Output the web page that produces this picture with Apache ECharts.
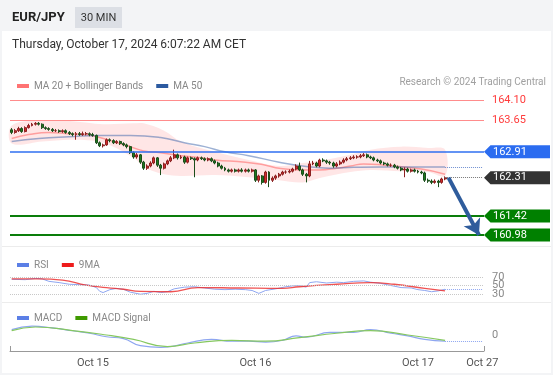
<!DOCTYPE html>
<html><head><meta charset="utf-8">
<script src="https://cdn.jsdelivr.net/npm/echarts/dist/echarts.min.js"></script>
<style>
html,body{margin:0;padding:0;background:#fff;}
#wrap{position:relative;width:553px;height:375px;overflow:hidden;background:#f3f4f6;font-family:Roboto,"Liberation Sans",sans-serif;}
#panel{position:absolute;left:2px;top:31px;width:549px;height:342px;background:#fff;}
#sym{position:absolute;left:12px;top:9px;font-size:13px;font-weight:bold;color:#222;line-height:16px;}
#tf{position:absolute;left:75px;top:7px;width:47px;height:21px;background:#dcdfe5;color:#333;font-size:11px;line-height:21px;text-align:center;}
#date{position:absolute;left:12px;top:37px;font-size:12px;color:#333;line-height:15px;}
#copy{position:absolute;right:7px;top:76px;font-size:10px;color:#a0a0a0;line-height:12px;}
.sep{position:absolute;left:2px;width:549px;height:1px;background:#ececec;}
#chart{position:absolute;left:0;top:0;width:553px;height:375px;}
</style></head>
<body>
<div id="wrap">
<div id="panel"></div>
<div class="sep" style="top:246px"></div>
<div class="sep" style="top:302px"></div>
<div id="chart"></div>
<div id="sym">EUR/JPY</div>
<div id="tf">30 MIN</div>
<div id="date">Thursday, October 17, 2024 6:07:22 AM CET</div>
<div id="copy">Research © 2024 Trading Central</div>
</div>
<script>
// ---- data ----
const tickIdx = [24, 72, 120, 139];
const tickLabels = ['Oct 15', 'Oct 16', 'Oct 17', 'Oct 27'];
const categoryCount = 140;

const candleOpen = [163.42,163.36,163.40,163.45,163.38,163.47,163.52,163.55,163.57,163.55,163.47,163.45,163.43,163.40,163.40,163.38,163.40,163.36,163.33,163.31,163.33,163.31,163.33,163.33,163.31,163.29,163.12,163.05,163.07,163.19,163.17,163.12,163.15,163.10,163.07,163.03,162.89,162.79,162.84,162.67,162.53,162.58,162.65,162.77,162.60,162.53,162.63,162.70,162.77,162.84,162.77,162.79,162.67,162.77,162.75,162.72,162.77,162.75,162.72,162.75,162.70,162.65,162.58,162.53,162.49,162.46,162.49,162.46,162.49,162.46,162.49,162.46,162.49,162.25,162.35,162.20,162.44,162.25,162.30,162.35,162.39,162.44,162.44,162.46,162.51,162.58,162.49,162.39,162.35,162.63,162.65,162.58,162.72,162.70,162.67,162.65,162.58,162.63,162.67,162.72,162.75,162.77,162.79,162.79,162.82,162.84,162.79,162.77,162.72,162.70,162.65,162.63,162.60,162.60,162.56,162.53,162.49,162.51,162.46,162.49,162.46,162.44,162.42,162.25,162.23,162.20,162.23,162.20,162.28];
const candleClose = [163.36,163.40,163.45,163.38,163.47,163.52,163.55,163.57,163.55,163.47,163.45,163.43,163.40,163.40,163.38,163.40,163.36,163.33,163.31,163.33,163.31,163.33,163.33,163.31,163.29,163.12,163.05,163.07,163.19,163.17,163.12,163.15,163.10,163.07,163.03,162.89,162.79,162.84,162.67,162.53,162.58,162.65,162.77,162.60,162.53,162.63,162.70,162.77,162.84,162.77,162.79,162.67,162.77,162.75,162.72,162.77,162.75,162.72,162.75,162.70,162.65,162.58,162.53,162.49,162.46,162.49,162.46,162.49,162.46,162.49,162.46,162.49,162.25,162.35,162.20,162.44,162.25,162.30,162.35,162.39,162.44,162.44,162.46,162.51,162.58,162.49,162.39,162.35,162.63,162.65,162.58,162.72,162.70,162.67,162.65,162.58,162.63,162.67,162.72,162.75,162.77,162.79,162.79,162.82,162.84,162.79,162.77,162.72,162.70,162.65,162.63,162.60,162.60,162.56,162.53,162.49,162.51,162.46,162.49,162.46,162.44,162.42,162.25,162.23,162.20,162.23,162.20,162.28,162.31];
const candleHigh = [163.46,163.44,163.49,163.48,163.50,163.56,163.58,163.60,163.60,163.57,163.50,163.48,163.46,163.44,163.43,163.43,163.43,163.39,163.36,163.37,163.37,163.38,163.37,163.36,163.35,163.31,163.15,163.10,163.22,163.22,163.20,163.18,163.17,163.13,163.10,163.05,162.92,162.88,162.86,162.70,162.62,162.69,162.80,162.79,162.63,162.66,162.73,162.81,162.96,162.87,162.83,162.82,162.80,162.80,162.78,162.80,162.80,162.78,162.78,162.78,162.73,162.68,162.61,162.56,162.52,162.52,162.52,162.52,162.53,162.52,162.52,162.52,162.51,162.38,162.37,162.47,162.46,162.34,162.38,162.42,162.47,162.48,162.50,162.54,162.62,162.66,162.52,162.42,162.70,162.70,162.68,162.75,162.76,162.73,162.70,162.68,162.67,162.71,162.76,162.79,162.81,162.83,162.83,162.86,162.88,162.87,162.82,162.80,162.75,162.73,162.68,162.66,162.64,162.63,162.59,162.56,162.55,162.54,162.52,162.52,162.49,162.47,162.45,162.29,162.27,162.27,162.26,162.31,162.34];
const candleLow = [163.32,163.33,163.37,163.35,163.36,163.45,163.50,163.52,163.52,163.44,163.42,163.40,163.37,163.37,163.35,163.35,163.33,163.30,163.27,163.19,163.28,163.28,163.29,163.27,163.26,163.09,163.02,163.01,163.05,163.13,163.09,163.09,163.07,163.04,162.99,162.86,162.75,162.75,162.63,162.49,162.49,162.55,162.62,162.56,162.37,162.50,162.60,162.67,162.74,162.73,162.74,162.63,162.64,162.72,162.32,162.69,162.72,162.69,162.69,162.67,162.62,162.55,162.50,162.46,162.43,162.43,162.43,162.43,162.43,162.43,162.43,162.43,162.21,162.20,162.15,162.17,162.09,162.21,162.26,162.31,162.36,162.40,162.41,162.43,162.48,162.46,162.35,162.20,162.32,162.60,162.55,162.55,162.67,162.63,162.61,162.54,162.55,162.60,162.64,162.69,162.72,162.74,162.75,162.76,162.79,162.76,162.74,162.69,162.67,162.62,162.60,162.57,162.56,162.53,162.50,162.46,162.32,162.43,162.43,162.43,162.41,162.39,162.21,162.19,162.16,162.17,162.09,162.17,162.25];

const ma20Idx = [0,5,11,17,22,26,30,35,39,44,50,56,60,69,75,79,86,91,96,100,104,110,121,128];
const ma20Val = [163.22,163.31,163.36,163.33,163.31,163.24,163.15,163.03,162.93,162.89,162.82,162.77,162.72,162.67,162.60,162.53,162.49,162.49,162.53,162.58,162.63,162.60,162.51,162.39];
const ma50Idx = [0,8,17,26,35,44,51,57,63,70,79,87,94,101,109,118,128];
const ma50Val = [163.15,163.22,163.26,163.29,163.29,163.24,163.12,163.03,162.91,162.82,162.67,162.57,162.53,162.55,162.56,162.56,162.56];
const bbIdx = [0,9,18,27,36,39,45,50,60,70,79,86,91,100,106,115,123,128];
const bbUpper = [163.52,163.64,163.62,163.55,163.57,163.57,163.40,163.15,162.91,162.72,162.58,162.65,162.70,162.84,162.96,163.03,163.00,162.96];
const bbLower = [163.10,163.15,163.19,163.12,162.77,162.56,162.39,162.35,162.37,162.32,162.25,162.20,162.30,162.44,162.49,162.46,162.44,162.35];

const resistanceLevels = [164.10, 163.65];
const pivotLevel = 162.91;
const lastPrice = 162.31;
const supportLevels = [161.42, 160.98];
const tagValues = [162.91, 162.31, 161.42, 160.98];
const tagColors = ['#2b6cf0', '#333333', '#008000', '#008000'];

const rsiIdx = [0,4,7,9,11,14,17,20,23,25,26,27,29,31,33,35,38,40,42,44,46,48,51,54,57,60,63,66,69,71,73,75,78,81,83,85,87,88,90,93,96,98,101,104,106,109,112,115,118,120,122,124,126,128];
const rsiVal = [65,64,67,66,60,57,53,52,51,45,36,33,40,43,41,34,29,31,36,33,35,42,46,47,44,41,40,41,40,38,31,38,42,47,49,50,46,57,59,56,58,57,60,61,58,55,50,45,44,40,38,35,37,41];
const rsiMaIdx = [0,8,15,22,28,33,38,47,55,67,80,85,96,106,113,122,128];
const rsiMaVal = [66,66,63,51,45,41,36,35,45,44,43,47,53,57,53,43,37];
const rsiLevels = [70, 50, 30];

const macdIdx = [0,6,12,18,23,28,33,38,44,47,52,59,65,70,75,80,84,87,94,101,106,112,117,122,128];
const macdVal = [0.06,0.10,0.08,0.048,0.02,-0.02,-0.04,-0.12,-0.14,-0.13,-0.09,-0.05,-0.07,-0.07,-0.08,-0.06,-0.01,-0.025,0.03,0.03,0.06,0.02,-0.01,-0.05,-0.07];
const signalIdx = [0,7,18,28,36,46,54,65,75,85,96,106,117,128];
const signalVal = [0.05,0.09,0.05,0.0,-0.05,-0.13,-0.09,-0.06,-0.07,-0.03,0.02,0.05,0.0,-0.06];

// ---- build ----
const categories = [];
for (let i = 0; i < categoryCount; i++) categories.push(String(i));
const lastIdx = candleClose.length - 1;
const endIdx = categoryCount - 1;
const candles = candleOpen.map((o, i) => [o, candleClose[i], candleLow[i], candleHigh[i]]);
const pairs = (idx, val) => idx.map((x, i) => [x, val[i]]);
const FONT = 'Roboto, "Liberation Sans", sans-serif';

const chart = echarts.init(document.getElementById('chart'), null, {renderer: 'canvas'});
const hiddenCat = (gi) => ({
  type: 'category', gridIndex: gi, data: categories, boundaryGap: true,
  axisLine: {show: false}, axisTick: {show: false}, axisLabel: {show: false}, splitLine: {show: false}
});

const option = {
  animation: false,
  backgroundColor: 'transparent',
  textStyle: {fontFamily: FONT},
  legend: [
    {data: ['MA 20 + Bollinger Bands', 'MA 50'], left: 12, top: 76, icon: 'rect', itemWidth: 12, itemHeight: 4, itemGap: 13, selectedMode: false, textStyle: {fontSize: 10, color: '#888', fontFamily: FONT}},
    {data: ['RSI', '9MA'], left: 12, top: 255, icon: 'rect', itemWidth: 12, itemHeight: 4, itemGap: 13, selectedMode: false, textStyle: {fontSize: 10, color: '#888', fontFamily: FONT}},
    {data: ['MACD', 'MACD Signal'], left: 12, top: 308, icon: 'rect', itemWidth: 12, itemHeight: 4, itemGap: 13, selectedMode: false, textStyle: {fontSize: 10, color: '#888', fontFamily: FONT}}
  ],
  grid: [
    {left: 10, top: 90, width: 474, height: 150},
    {left: 10, top: 268.9, width: 474, height: 33.2},
    {left: 10, top: 319, width: 474, height: 32}
  ],
  xAxis: [
    hiddenCat(0),
    hiddenCat(1),
    {
      type: 'category', gridIndex: 2, data: categories, boundaryGap: true,
      axisLine: {show: false}, axisTick: {show: false}, splitLine: {show: false},
      axisLabel: {
        show: true, margin: 7, fontSize: 11, color: '#555', fontFamily: FONT,
        interval: (i) => tickIdx.indexOf(i) >= 0,
        formatter: (v, i) => { const k = tickIdx.indexOf(i); return k >= 0 ? tickLabels[k] : ''; }
      }
    },
    {
      type: 'value', gridIndex: 2, min: 0, max: 1, interval: 1, position: 'bottom',
      axisLine: {show: true, lineStyle: {color: '#999', width: 1}},
      axisTick: {show: true, inside: true, length: 5, lineStyle: {color: '#999'}},
      axisLabel: {show: false}, splitLine: {show: false}
    }
  ],
  yAxis: [
    {type: 'value', gridIndex: 0, min: 160.864, max: 164.344, show: false, splitLine: {show: false}},
    {
      type: 'value', gridIndex: 1, min: 10, max: 90, interval: 20, position: 'right',
      axisLine: {show: false}, axisTick: {show: false}, splitLine: {show: false},
      axisLabel: {margin: 8, fontSize: 11, color: '#888', fontFamily: FONT,
        formatter: (v) => (rsiLevels.indexOf(v) >= 0 ? String(v) : '')}
    },
    {
      type: 'value', gridIndex: 2, min: -0.18, max: 0.18, interval: 0.18, position: 'right',
      axisLine: {show: false}, axisTick: {show: false}, splitLine: {show: false},
      axisLabel: {margin: 8, fontSize: 11, color: '#888', fontFamily: FONT,
        formatter: (v) => (Math.abs(v) < 1e-9 ? '0' : '')}
    }
  ],
  series: [
    {
      name: 'Bands', type: 'custom', xAxisIndex: 0, yAxisIndex: 0, z: 1, silent: true,
      data: [[0, 0]],
      renderItem: (params, api) => {
        const up = bbIdx.map((x, i) => api.coord([x, bbUpper[i]]));
        const lo = bbIdx.map((x, i) => api.coord([x, bbLower[i]])).reverse();
        return {type: 'polygon', shape: {points: up.concat(lo), smooth: 0.35},
          style: {fill: 'rgba(255,130,130,0.2)'}};
      }
    },
    {
      name: 'MA 20 + Bollinger Bands', type: 'line', xAxisIndex: 0, yAxisIndex: 0, z: 2,
      color: '#ff7373', data: pairs(ma20Idx, ma20Val), smooth: true, showSymbol: false,
      lineStyle: {color: 'rgba(255,110,110,0.6)', width: 1.5}
    },
    {
      name: 'MA 50', type: 'line', xAxisIndex: 0, yAxisIndex: 0, z: 2,
      color: '#2c5aa0', data: pairs(ma50Idx, ma50Val), smooth: true, showSymbol: false,
      lineStyle: {color: 'rgba(60,100,170,0.5)', width: 1.5},
      markLine: {silent: true, symbol: ['none', 'none'], label: {show: false},
        lineStyle: {type: 'dotted', color: '#6f8fd0', width: 1},
        data: [[{coord: [ma50Idx[ma50Idx.length - 1], ma50Val[ma50Val.length - 1]]}, {coord: [endIdx, ma50Val[ma50Val.length - 1]]}]]}
    },
    {
      name: 'EUR/JPY', type: 'candlestick', xAxisIndex: 0, yAxisIndex: 0, z: 3,
      data: candles, barWidth: '72%',
      itemStyle: {color: '#d42a2a', color0: '#1d7a1d', borderColor: '#8a2020', borderColor0: '#1b4d1b', borderWidth: 1},
      markLine: {
        silent: true, symbol: ['none', 'none'], label: {show: false},
        data: [
          ...resistanceLevels.map(v => ({yAxis: v, lineStyle: {color: '#ff8c8c', width: 1, type: 'solid'},
            label: {show: true, position: 'end', distance: 8, formatter: v.toFixed(2), color: '#ff3b3b', fontSize: 11, fontFamily: FONT}})),
          {yAxis: pivotLevel, lineStyle: {color: '#2f6ff0', width: 1.5, type: 'solid'}},
          ...supportLevels.map(v => ({yAxis: v, lineStyle: {color: '#0a7d0a', width: 2, type: 'solid'}})),
          [{coord: [lastIdx, lastPrice], lineStyle: {color: '#777', width: 1, type: 'dotted'}}, {coord: [endIdx, lastPrice]}],
          [{coord: [lastIdx + 1, lastPrice], symbol: 'none', lineStyle: {color: '#2f5c9c', width: 4, type: 'solid'}},
           {coord: [endIdx - 1, supportLevels[1]], symbol: 'arrow', symbolSize: [14, 15]}]
        ]
      }
    },
    {
      name: 'Tags', type: 'custom', xAxisIndex: 0, yAxisIndex: 0, z: 6, clip: false, silent: true,
      data: tagValues.map((v, i) => [endIdx, v, i]),
      renderItem: (params, api) => {
        const v = api.value(1);
        const k = api.value(2);
        const y = api.coord([endIdx, v])[1];
        const x0 = params.coordSys.x + params.coordSys.width;
        const h = 6.5;
        return {type: 'group', children: [
          {type: 'polygon', shape: {points: [[x0, y], [x0 + 6.5, y - h], [x0 + 66, y - h], [x0 + 66, y + h], [x0 + 6.5, y + h]]},
            style: {fill: tagColors[k]}},
          {type: 'text', style: {text: v.toFixed(2), x: x0 + 9, y: y, verticalAlign: 'middle', align: 'left',
            fill: '#fff', fontSize: 11, fontFamily: FONT}}
        ]};
      }
    },
    {
      name: 'RSI', type: 'line', xAxisIndex: 1, yAxisIndex: 1, z: 3, clip: false,
      color: '#5b7fe6', data: pairs(rsiIdx, rsiVal), showSymbol: false,
      lineStyle: {color: '#8ea6f0', width: 1},
      markLine: {silent: true, symbol: ['none', 'none'], label: {show: false},
        data: [
          ...rsiLevels.map(v => ({yAxis: v, lineStyle: {color: '#c8c8c8', width: 1, type: 'dotted'}})),
          [{coord: [rsiIdx[rsiIdx.length - 1], rsiVal[rsiVal.length - 1]], lineStyle: {color: '#8ea6f0', width: 1, type: 'dotted'}},
           {coord: [endIdx, rsiVal[rsiVal.length - 1]]}]
        ]}
    },
    {
      name: '9MA', type: 'line', xAxisIndex: 1, yAxisIndex: 1, z: 4, clip: false,
      color: '#ee1c1c', data: pairs(rsiMaIdx, rsiMaVal), smooth: true, showSymbol: false,
      lineStyle: {color: 'rgba(235,40,40,0.8)', width: 1.3}
    },
    {
      name: 'MACD', type: 'line', xAxisIndex: 2, yAxisIndex: 2, z: 3, clip: false,
      color: '#5b7fe6', data: pairs(macdIdx, macdVal), smooth: true, showSymbol: false,
      lineStyle: {color: '#8ea6f0', width: 1.2},
      markLine: {silent: true, symbol: ['none', 'none'], label: {show: false},
        data: [[{coord: [macdIdx[macdIdx.length - 1], macdVal[macdVal.length - 1]], lineStyle: {color: '#8ea6f0', width: 1, type: 'dotted'}},
                {coord: [endIdx, macdVal[macdVal.length - 1]]}]]}
    },
    {
      name: 'MACD Signal', type: 'line', xAxisIndex: 2, yAxisIndex: 2, z: 4, clip: false,
      color: '#3f9a00', data: pairs(signalIdx, signalVal), smooth: true, showSymbol: false,
      lineStyle: {color: '#86c860', width: 1.2}
    }
  ]
};
chart.setOption(option);
</script>
</body></html>
